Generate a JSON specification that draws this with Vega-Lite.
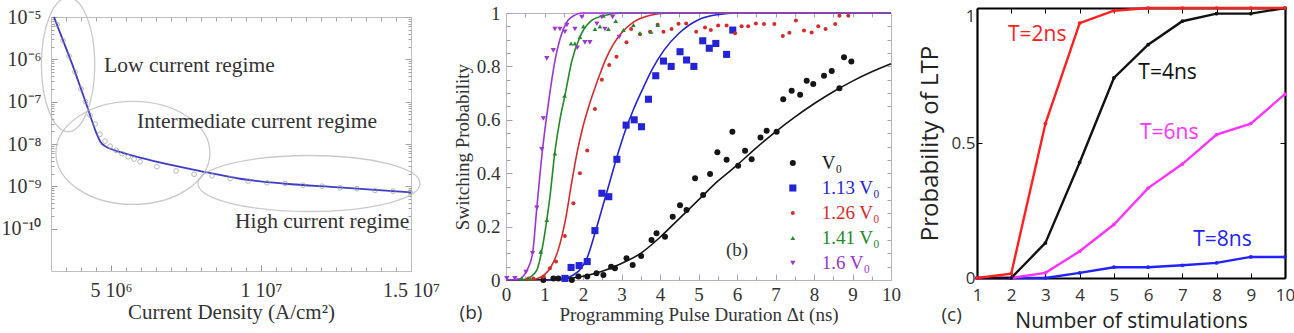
{
  "$schema": "https://vega.github.io/schema/vega-lite/v6.json",
  "width": 1294,
  "height": 333,
  "autosize": "none",
  "padding": 0,
  "background": "white",
  "config": {
    "view": {"stroke": null},
    "axis": {"grid": false, "labelFlush": false, "labelOverlap": false, "titleFontWeight": "normal", "labelBound": false}
  },
  "datasets": {
    "regimeCurve": [
      {"J": 3.1e6, "t": 1e-5}, {"J": 3.4e6, "t": 2.8e-6}, {"J": 3.7e6, "t": 7.9e-7}, {"J": 4.0e6, "t": 2.0e-7},
      {"J": 4.2e6, "t": 7.9e-8}, {"J": 4.35e6, "t": 3.8e-8}, {"J": 4.5e6, "t": 1.9e-8}, {"J": 4.65e6, "t": 1.12e-8},
      {"J": 4.8e6, "t": 8.9e-9}, {"J": 5.0e6, "t": 7.6e-9}, {"J": 5.4e6, "t": 6.2e-9}, {"J": 6.0e6, "t": 4.7e-9},
      {"J": 7.0e6, "t": 3.2e-9}, {"J": 8.2e6, "t": 2.14e-9}, {"J": 9.3e6, "t": 1.51e-9}, {"J": 1.08e7, "t": 1.15e-9},
      {"J": 1.26e7, "t": 9.5e-10}, {"J": 1.5e7, "t": 7.2e-10}
    ],
    "regimePoints": [
      {"J": 3.2e6, "t": 6.6e-6}, {"J": 3.4e6, "t": 2.8e-6}, {"J": 3.6e6, "t": 1.2e-6}, {"J": 3.8e6, "t": 5.0e-7},
      {"J": 4.0e6, "t": 2.0e-7}, {"J": 4.15e6, "t": 1.0e-7}, {"J": 4.3e6, "t": 4.8e-8}, {"J": 4.47e6, "t": 2.95e-8},
      {"J": 4.63e6, "t": 1.7e-8}, {"J": 4.8e6, "t": 1.17e-8}, {"J": 4.97e6, "t": 8.9e-9}, {"J": 5.17e6, "t": 7.1e-9},
      {"J": 5.37e6, "t": 5.9e-9}, {"J": 5.57e6, "t": 5.0e-9}, {"J": 5.77e6, "t": 4.4e-9}, {"J": 5.97e6, "t": 3.8e-9},
      {"J": 6.53e6, "t": 2.92e-9}, {"J": 7.17e6, "t": 2.32e-9}, {"J": 7.77e6, "t": 1.93e-9}, {"J": 8.37e6, "t": 1.76e-9},
      {"J": 8.97e6, "t": 1.53e-9}, {"J": 9.57e6, "t": 1.33e-9}, {"J": 1.02e7, "t": 1.21e-9}, {"J": 1.08e7, "t": 1.16e-9},
      {"J": 1.14e7, "t": 1.06e-9}, {"J": 1.203e7, "t": 1.01e-9}, {"J": 1.263e7, "t": 9.2e-10}, {"J": 1.32e7, "t": 8.8e-10},
      {"J": 1.38e7, "t": 8.0e-10}, {"J": 1.44e7, "t": 7.7e-10}, {"J": 1.497e7, "t": 7.3e-10}
    ],
    "switchFits": [
      {"voltage": "V0", "duration": 0, "probability": 0}, {"voltage": "V0", "duration": 1, "probability": 0.001},
      {"voltage": "V0", "duration": 1.5, "probability": 0.004}, {"voltage": "V0", "duration": 2, "probability": 0.014},
      {"voltage": "V0", "duration": 2.5, "probability": 0.033}, {"voltage": "V0", "duration": 3, "probability": 0.062},
      {"voltage": "V0", "duration": 3.5, "probability": 0.1}, {"voltage": "V0", "duration": 4, "probability": 0.16},
      {"voltage": "V0", "duration": 4.5, "probability": 0.23}, {"voltage": "V0", "duration": 5, "probability": 0.3},
      {"voltage": "V0", "duration": 5.5, "probability": 0.37}, {"voltage": "V0", "duration": 6, "probability": 0.43},
      {"voltage": "V0", "duration": 6.5, "probability": 0.495}, {"voltage": "V0", "duration": 7, "probability": 0.555},
      {"voltage": "V0", "duration": 7.5, "probability": 0.61}, {"voltage": "V0", "duration": 8, "probability": 0.66},
      {"voltage": "V0", "duration": 8.5, "probability": 0.705}, {"voltage": "V0", "duration": 9, "probability": 0.745},
      {"voltage": "V0", "duration": 9.5, "probability": 0.78}, {"voltage": "V0", "duration": 10, "probability": 0.81},
      {"voltage": "1.13 V0", "duration": 1, "probability": 0}, {"voltage": "1.13 V0", "duration": 1.4, "probability": 0.003},
      {"voltage": "1.13 V0", "duration": 1.7, "probability": 0.015}, {"voltage": "1.13 V0", "duration": 1.9, "probability": 0.035},
      {"voltage": "1.13 V0", "duration": 2.1, "probability": 0.08}, {"voltage": "1.13 V0", "duration": 2.3, "probability": 0.17},
      {"voltage": "1.13 V0", "duration": 2.5, "probability": 0.27}, {"voltage": "1.13 V0", "duration": 2.7, "probability": 0.37},
      {"voltage": "1.13 V0", "duration": 2.9, "probability": 0.47}, {"voltage": "1.13 V0", "duration": 3.1, "probability": 0.56},
      {"voltage": "1.13 V0", "duration": 3.3, "probability": 0.635}, {"voltage": "1.13 V0", "duration": 3.5, "probability": 0.7},
      {"voltage": "1.13 V0", "duration": 3.8, "probability": 0.79}, {"voltage": "1.13 V0", "duration": 4.1, "probability": 0.86},
      {"voltage": "1.13 V0", "duration": 4.5, "probability": 0.925}, {"voltage": "1.13 V0", "duration": 5, "probability": 0.975},
      {"voltage": "1.13 V0", "duration": 5.5, "probability": 0.994}, {"voltage": "1.13 V0", "duration": 6, "probability": 1},
      {"voltage": "1.13 V0", "duration": 10, "probability": 1},
      {"voltage": "1.26 V0", "duration": 0.5, "probability": 0}, {"voltage": "1.26 V0", "duration": 0.8, "probability": 0.005},
      {"voltage": "1.26 V0", "duration": 1.0, "probability": 0.02}, {"voltage": "1.26 V0", "duration": 1.15, "probability": 0.045},
      {"voltage": "1.26 V0", "duration": 1.35, "probability": 0.11}, {"voltage": "1.26 V0", "duration": 1.55, "probability": 0.23},
      {"voltage": "1.26 V0", "duration": 1.7, "probability": 0.36}, {"voltage": "1.26 V0", "duration": 1.85, "probability": 0.48},
      {"voltage": "1.26 V0", "duration": 2.0, "probability": 0.575}, {"voltage": "1.26 V0", "duration": 2.15, "probability": 0.65},
      {"voltage": "1.26 V0", "duration": 2.3, "probability": 0.715}, {"voltage": "1.26 V0", "duration": 2.45, "probability": 0.775},
      {"voltage": "1.26 V0", "duration": 2.6, "probability": 0.83}, {"voltage": "1.26 V0", "duration": 2.8, "probability": 0.885},
      {"voltage": "1.26 V0", "duration": 3.0, "probability": 0.925}, {"voltage": "1.26 V0", "duration": 3.3, "probability": 0.965},
      {"voltage": "1.26 V0", "duration": 3.7, "probability": 0.99}, {"voltage": "1.26 V0", "duration": 4.2, "probability": 1},
      {"voltage": "1.26 V0", "duration": 10, "probability": 1},
      {"voltage": "1.41 V0", "duration": 0.4, "probability": 0}, {"voltage": "1.41 V0", "duration": 0.62, "probability": 0.01},
      {"voltage": "1.41 V0", "duration": 0.8, "probability": 0.037}, {"voltage": "1.41 V0", "duration": 0.93, "probability": 0.11},
      {"voltage": "1.41 V0", "duration": 1.06, "probability": 0.225}, {"voltage": "1.41 V0", "duration": 1.14, "probability": 0.31},
      {"voltage": "1.41 V0", "duration": 1.27, "probability": 0.48}, {"voltage": "1.41 V0", "duration": 1.4, "probability": 0.6},
      {"voltage": "1.41 V0", "duration": 1.53, "probability": 0.69}, {"voltage": "1.41 V0", "duration": 1.71, "probability": 0.82},
      {"voltage": "1.41 V0", "duration": 1.92, "probability": 0.91}, {"voltage": "1.41 V0", "duration": 2.18, "probability": 0.967},
      {"voltage": "1.41 V0", "duration": 2.53, "probability": 0.99}, {"voltage": "1.41 V0", "duration": 3, "probability": 1},
      {"voltage": "1.41 V0", "duration": 10, "probability": 1},
      {"voltage": "1.6 V0", "duration": 0, "probability": 0}, {"voltage": "1.6 V0", "duration": 0.36, "probability": 0.005},
      {"voltage": "1.6 V0", "duration": 0.52, "probability": 0.03}, {"voltage": "1.6 V0", "duration": 0.69, "probability": 0.1},
      {"voltage": "1.6 V0", "duration": 0.8, "probability": 0.27}, {"voltage": "1.6 V0", "duration": 0.95, "probability": 0.49},
      {"voltage": "1.6 V0", "duration": 1.1, "probability": 0.66}, {"voltage": "1.6 V0", "duration": 1.27, "probability": 0.82},
      {"voltage": "1.6 V0", "duration": 1.45, "probability": 0.924}, {"voltage": "1.6 V0", "duration": 1.66, "probability": 0.98},
      {"voltage": "1.6 V0", "duration": 2, "probability": 1}, {"voltage": "1.6 V0", "duration": 10, "probability": 1}
    ],
    "switchData": [
      {"voltage": "V0", "duration": 0.97, "probability": 0}, {"voltage": "V0", "duration": 1.23, "probability": 0.006},
      {"voltage": "V0", "duration": 1.36, "probability": 0.006}, {"voltage": "V0", "duration": 1.71, "probability": 0},
      {"voltage": "V0", "duration": 1.88, "probability": 0.013}, {"voltage": "V0", "duration": 2.11, "probability": 0.013},
      {"voltage": "V0", "duration": 2.35, "probability": 0.025}, {"voltage": "V0", "duration": 2.53, "probability": 0.019},
      {"voltage": "V0", "duration": 2.73, "probability": 0.05}, {"voltage": "V0", "duration": 2.83, "probability": 0.044},
      {"voltage": "V0", "duration": 3.13, "probability": 0.081}, {"voltage": "V0", "duration": 3.29, "probability": 0.056},
      {"voltage": "V0", "duration": 3.51, "probability": 0.09}, {"voltage": "V0", "duration": 3.78, "probability": 0.15},
      {"voltage": "V0", "duration": 3.91, "probability": 0.175}, {"voltage": "V0", "duration": 4.13, "probability": 0.162},
      {"voltage": "V0", "duration": 4.33, "probability": 0.237}, {"voltage": "V0", "duration": 4.52, "probability": 0.28},
      {"voltage": "V0", "duration": 4.69, "probability": 0.262}, {"voltage": "V0", "duration": 4.91, "probability": 0.381},
      {"voltage": "V0", "duration": 5.12, "probability": 0.318}, {"voltage": "V0", "duration": 5.3, "probability": 0.397},
      {"voltage": "V0", "duration": 5.49, "probability": 0.478}, {"voltage": "V0", "duration": 5.73, "probability": 0.45},
      {"voltage": "V0", "duration": 5.88, "probability": 0.555}, {"voltage": "V0", "duration": 6.03, "probability": 0.428},
      {"voltage": "V0", "duration": 6.21, "probability": 0.484}, {"voltage": "V0", "duration": 6.38, "probability": 0.452},
      {"voltage": "V0", "duration": 6.61, "probability": 0.534}, {"voltage": "V0", "duration": 6.77, "probability": 0.559},
      {"voltage": "V0", "duration": 7.03, "probability": 0.555}, {"voltage": "V0", "duration": 7.2, "probability": 0.677},
      {"voltage": "V0", "duration": 7.42, "probability": 0.709}, {"voltage": "V0", "duration": 7.64, "probability": 0.694},
      {"voltage": "V0", "duration": 7.81, "probability": 0.746}, {"voltage": "V0", "duration": 7.98, "probability": 0.734},
      {"voltage": "V0", "duration": 8.26, "probability": 0.765}, {"voltage": "V0", "duration": 8.46, "probability": 0.783},
      {"voltage": "V0", "duration": 8.66, "probability": 0.718}, {"voltage": "V0", "duration": 8.78, "probability": 0.834},
      {"voltage": "V0", "duration": 8.97, "probability": 0.818},
      {"voltage": "1.13 V0", "duration": 1.53, "probability": 0.006}, {"voltage": "1.13 V0", "duration": 1.69, "probability": 0.047},
      {"voltage": "1.13 V0", "duration": 1.9, "probability": 0.054}, {"voltage": "1.13 V0", "duration": 2.11, "probability": 0.069},
      {"voltage": "1.13 V0", "duration": 2.31, "probability": 0.185}, {"voltage": "1.13 V0", "duration": 2.49, "probability": 0.325},
      {"voltage": "1.13 V0", "duration": 2.67, "probability": 0.312}, {"voltage": "1.13 V0", "duration": 2.88, "probability": 0.452},
      {"voltage": "1.13 V0", "duration": 3.12, "probability": 0.58}, {"voltage": "1.13 V0", "duration": 3.33, "probability": 0.6},
      {"voltage": "1.13 V0", "duration": 3.52, "probability": 0.574}, {"voltage": "1.13 V0", "duration": 3.7, "probability": 0.677},
      {"voltage": "1.13 V0", "duration": 3.89, "probability": 0.765}, {"voltage": "1.13 V0", "duration": 4.09, "probability": 0.82},
      {"voltage": "1.13 V0", "duration": 4.29, "probability": 0.8}, {"voltage": "1.13 V0", "duration": 4.52, "probability": 0.855},
      {"voltage": "1.13 V0", "duration": 4.69, "probability": 0.824}, {"voltage": "1.13 V0", "duration": 4.88, "probability": 0.8},
      {"voltage": "1.13 V0", "duration": 5.11, "probability": 0.896}, {"voltage": "1.13 V0", "duration": 5.28, "probability": 0.868},
      {"voltage": "1.13 V0", "duration": 5.45, "probability": 0.886}, {"voltage": "1.13 V0", "duration": 5.73, "probability": 0.845},
      {"voltage": "1.13 V0", "duration": 5.89, "probability": 0.936},
      {"voltage": "1.26 V0", "duration": 0.58, "probability": 0.006}, {"voltage": "1.26 V0", "duration": 0.71, "probability": 0.006},
      {"voltage": "1.26 V0", "duration": 0.97, "probability": 0.012}, {"voltage": "1.26 V0", "duration": 1.14, "probability": 0.044},
      {"voltage": "1.26 V0", "duration": 1.3, "probability": 0.069}, {"voltage": "1.26 V0", "duration": 1.53, "probability": 0.165},
      {"voltage": "1.26 V0", "duration": 1.75, "probability": 0.287}, {"voltage": "1.26 V0", "duration": 1.92, "probability": 0.4},
      {"voltage": "1.26 V0", "duration": 2.11, "probability": 0.485}, {"voltage": "1.26 V0", "duration": 2.31, "probability": 0.64},
      {"voltage": "1.26 V0", "duration": 2.49, "probability": 0.75}, {"voltage": "1.26 V0", "duration": 2.68, "probability": 0.805},
      {"voltage": "1.26 V0", "duration": 2.87, "probability": 0.836}, {"voltage": "1.26 V0", "duration": 3.13, "probability": 0.89},
      {"voltage": "1.26 V0", "duration": 3.25, "probability": 0.94}, {"voltage": "1.26 V0", "duration": 3.48, "probability": 0.92},
      {"voltage": "1.26 V0", "duration": 3.74, "probability": 0.93}, {"voltage": "1.26 V0", "duration": 3.94, "probability": 0.956},
      {"voltage": "1.26 V0", "duration": 4.09, "probability": 0.93}, {"voltage": "1.26 V0", "duration": 4.3, "probability": 0.94},
      {"voltage": "1.26 V0", "duration": 4.48, "probability": 0.96}, {"voltage": "1.26 V0", "duration": 4.68, "probability": 0.961},
      {"voltage": "1.26 V0", "duration": 4.94, "probability": 0.93}, {"voltage": "1.26 V0", "duration": 5.17, "probability": 0.946},
      {"voltage": "1.26 V0", "duration": 5.32, "probability": 0.936}, {"voltage": "1.26 V0", "duration": 5.51, "probability": 0.953},
      {"voltage": "1.26 V0", "duration": 5.73, "probability": 0.953}, {"voltage": "1.26 V0", "duration": 5.95, "probability": 0.924},
      {"voltage": "1.26 V0", "duration": 6.12, "probability": 0.95}, {"voltage": "1.26 V0", "duration": 6.29, "probability": 0.95},
      {"voltage": "1.26 V0", "duration": 6.49, "probability": 0.961}, {"voltage": "1.26 V0", "duration": 6.7, "probability": 0.959},
      {"voltage": "1.26 V0", "duration": 6.97, "probability": 0.959}, {"voltage": "1.26 V0", "duration": 7.19, "probability": 0.914},
      {"voltage": "1.26 V0", "duration": 7.36, "probability": 0.926}, {"voltage": "1.26 V0", "duration": 7.53, "probability": 0.972},
      {"voltage": "1.26 V0", "duration": 7.74, "probability": 0.934}, {"voltage": "1.26 V0", "duration": 7.94, "probability": 0.927},
      {"voltage": "1.26 V0", "duration": 8.11, "probability": 0.95}, {"voltage": "1.26 V0", "duration": 8.3, "probability": 0.94},
      {"voltage": "1.26 V0", "duration": 8.55, "probability": 0.959}, {"voltage": "1.26 V0", "duration": 8.66, "probability": 0.99},
      {"voltage": "1.26 V0", "duration": 8.89, "probability": 0.99},
      {"voltage": "1.41 V0", "duration": 0.41, "probability": 0.006}, {"voltage": "1.41 V0", "duration": 0.62, "probability": 0.006},
      {"voltage": "1.41 V0", "duration": 0.9, "probability": 0.106}, {"voltage": "1.41 V0", "duration": 1.06, "probability": 0.225},
      {"voltage": "1.41 V0", "duration": 1.27, "probability": 0.474}, {"voltage": "1.41 V0", "duration": 1.52, "probability": 0.69},
      {"voltage": "1.41 V0", "duration": 1.69, "probability": 0.886}, {"voltage": "1.41 V0", "duration": 1.79, "probability": 0.886},
      {"voltage": "1.41 V0", "duration": 1.92, "probability": 0.91}, {"voltage": "1.41 V0", "duration": 2.01, "probability": 0.95},
      {"voltage": "1.41 V0", "duration": 2.31, "probability": 0.94}, {"voltage": "1.41 V0", "duration": 2.44, "probability": 0.95},
      {"voltage": "1.41 V0", "duration": 2.53, "probability": 0.99}, {"voltage": "1.41 V0", "duration": 2.66, "probability": 0.94},
      {"voltage": "1.41 V0", "duration": 2.85, "probability": 0.97}, {"voltage": "1.41 V0", "duration": 3.05, "probability": 0.936},
      {"voltage": "1.41 V0", "duration": 3.31, "probability": 0.955}, {"voltage": "1.41 V0", "duration": 3.48, "probability": 0.925},
      {"voltage": "1.41 V0", "duration": 3.77, "probability": 0.93}, {"voltage": "1.41 V0", "duration": 3.94, "probability": 0.955},
      {"voltage": "1.6 V0", "duration": 0.02, "probability": 0.006}, {"voltage": "1.6 V0", "duration": 0.23, "probability": 0.006},
      {"voltage": "1.6 V0", "duration": 0.52, "probability": 0.03}, {"voltage": "1.6 V0", "duration": 0.69, "probability": 0.1},
      {"voltage": "1.6 V0", "duration": 0.8, "probability": 0.27}, {"voltage": "1.6 V0", "duration": 0.93, "probability": 0.49},
      {"voltage": "1.6 V0", "duration": 0.97, "probability": 0.605}, {"voltage": "1.6 V0", "duration": 1.06, "probability": 0.83},
      {"voltage": "1.6 V0", "duration": 1.23, "probability": 0.86}, {"voltage": "1.6 V0", "duration": 1.27, "probability": 0.94},
      {"voltage": "1.6 V0", "duration": 1.4, "probability": 0.94}, {"voltage": "1.6 V0", "duration": 1.53, "probability": 0.93},
      {"voltage": "1.6 V0", "duration": 1.58, "probability": 0.955}, {"voltage": "1.6 V0", "duration": 1.79, "probability": 0.94},
      {"voltage": "1.6 V0", "duration": 1.85, "probability": 0.87}, {"voltage": "1.6 V0", "duration": 1.97, "probability": 0.985},
      {"voltage": "1.6 V0", "duration": 2.05, "probability": 0.89}, {"voltage": "1.6 V0", "duration": 2.18, "probability": 0.89},
      {"voltage": "1.6 V0", "duration": 2.36, "probability": 0.96}, {"voltage": "1.6 V0", "duration": 2.49, "probability": 0.985},
      {"voltage": "1.6 V0", "duration": 2.57, "probability": 0.94}, {"voltage": "1.6 V0", "duration": 2.77, "probability": 0.985},
      {"voltage": "1.6 V0", "duration": 2.94, "probability": 0.91}
    ],
    "ltp": [
      {"pulse": "T=8ns", "stimulations": 1, "probability": 0}, {"pulse": "T=8ns", "stimulations": 2, "probability": 0},
      {"pulse": "T=8ns", "stimulations": 3, "probability": 0}, {"pulse": "T=8ns", "stimulations": 4, "probability": 0.019},
      {"pulse": "T=8ns", "stimulations": 5, "probability": 0.04}, {"pulse": "T=8ns", "stimulations": 6, "probability": 0.04},
      {"pulse": "T=8ns", "stimulations": 7, "probability": 0.047}, {"pulse": "T=8ns", "stimulations": 8, "probability": 0.056},
      {"pulse": "T=8ns", "stimulations": 9, "probability": 0.078}, {"pulse": "T=8ns", "stimulations": 10, "probability": 0.078},
      {"pulse": "T=6ns", "stimulations": 1, "probability": 0}, {"pulse": "T=6ns", "stimulations": 2, "probability": 0},
      {"pulse": "T=6ns", "stimulations": 3, "probability": 0.019}, {"pulse": "T=6ns", "stimulations": 4, "probability": 0.099},
      {"pulse": "T=6ns", "stimulations": 5, "probability": 0.198}, {"pulse": "T=6ns", "stimulations": 6, "probability": 0.333},
      {"pulse": "T=6ns", "stimulations": 7, "probability": 0.422}, {"pulse": "T=6ns", "stimulations": 8, "probability": 0.531},
      {"pulse": "T=6ns", "stimulations": 9, "probability": 0.572}, {"pulse": "T=6ns", "stimulations": 10, "probability": 0.681},
      {"pulse": "T=4ns", "stimulations": 1, "probability": 0}, {"pulse": "T=4ns", "stimulations": 2, "probability": 0},
      {"pulse": "T=4ns", "stimulations": 3, "probability": 0.13}, {"pulse": "T=4ns", "stimulations": 4, "probability": 0.428},
      {"pulse": "T=4ns", "stimulations": 5, "probability": 0.741}, {"pulse": "T=4ns", "stimulations": 6, "probability": 0.864},
      {"pulse": "T=4ns", "stimulations": 7, "probability": 0.951}, {"pulse": "T=4ns", "stimulations": 8, "probability": 0.979},
      {"pulse": "T=4ns", "stimulations": 9, "probability": 0.979}, {"pulse": "T=4ns", "stimulations": 10, "probability": 1},
      {"pulse": "T=2ns", "stimulations": 1, "probability": 0}, {"pulse": "T=2ns", "stimulations": 2, "probability": 0.016},
      {"pulse": "T=2ns", "stimulations": 3, "probability": 0.572}, {"pulse": "T=2ns", "stimulations": 4, "probability": 0.944},
      {"pulse": "T=2ns", "stimulations": 5, "probability": 0.99}, {"pulse": "T=2ns", "stimulations": 6, "probability": 1},
      {"pulse": "T=2ns", "stimulations": 7, "probability": 1}, {"pulse": "T=2ns", "stimulations": 8, "probability": 1},
      {"pulse": "T=2ns", "stimulations": 9, "probability": 1}, {"pulse": "T=2ns", "stimulations": 10, "probability": 1}
    ],
    "voltageKey": [
      {"voltage": "V0", "label": "V₀"}, {"voltage": "1.13 V0", "label": "1.13 V₀"}, {"voltage": "1.26 V0", "label": "1.26 V₀"},
      {"voltage": "1.41 V0", "label": "1.41 V₀"}, {"voltage": "1.6 V0", "label": "1.6 V₀"}
    ]
  },
  "layer": [
    {
      "layer": [
        {
          "data": {"name": "regimeCurve"},
          "mark": {"type": "line", "color": "#3c3cc6", "strokeWidth": 1.8, "interpolate": "monotone"},
          "encoding": {
            "x": {"field": "J", "type": "quantitative",
              "scale": {"domain": [3e6, 1.5e7], "range": [51, 411]},
              "axis": {"orient": "bottom", "offset": -62, "values": [5e6, 1e7, 1.5e7],
                "labelExpr": "datum.value < 7e6 ? '5 10⁶' : datum.value < 1.2e7 ? '1 10⁷' : '1.5 10⁷'",
                "title": "Current Density (A/cm²)", "tickSize": -6, "labelPadding": 15, "domainColor": "#bdbdbd", "tickColor": "#9a9a9a",
                "labelFont": "Liberation Serif", "labelFontSize": 20, "labelColor": "#333",
                "titleFont": "Liberation Serif", "titleFontSize": 21, "titleColor": "#333", "titlePadding": 1}},
            "y": {"field": "t", "type": "quantitative",
              "scale": {"type": "log", "domain": [8e-11, 1e-5], "range": [271, 17]},
              "axis": {"orient": "left", "offset": -51, "values": [1e-10, 1e-9, 1e-8, 1e-7, 1e-6, 1e-5],
                "labelExpr": "datum.value < 3e-10 ? '10⁻¹⁰' : datum.value < 3e-9 ? '10⁻⁹' : datum.value < 3e-8 ? '10⁻⁸' : datum.value < 3e-7 ? '10⁻⁷' : datum.value < 3e-6 ? '10⁻⁶' : '10⁻⁵'",
                "title": null, "tickSize": -6, "labelPadding": 16, "domainColor": "#bdbdbd", "tickColor": "#9a9a9a",
                "labelFont": "Liberation Serif", "labelFontSize": 20, "labelColor": "#333"}}
          }
        },
        {
          "data": {"name": "regimePoints"},
          "mark": {"type": "point", "shape": "circle", "size": 22, "filled": false, "color": "#9a9a9a", "strokeWidth": 1},
          "encoding": {
            "x": {"field": "J", "type": "quantitative",
              "axis": {"orient": "top", "offset": -17, "values": [3.5e6, 4e6, 4.5e6, 5e6, 5.5e6, 6e6, 6.5e6, 7e6, 7.5e6, 8e6, 8.5e6, 9e6, 9.5e6, 1e7, 1.05e7, 1.1e7, 1.15e7, 1.2e7, 1.25e7, 1.3e7, 1.35e7, 1.4e7, 1.45e7],
                "labels": false, "title": null, "tickSize": -4, "domainColor": "#bdbdbd", "tickColor": "#a5a5a5"}},
            "y": {"field": "t", "type": "quantitative",
              "axis": {"orient": "right", "offset": -883, "values": [1e-10, 1e-9, 1e-8, 1e-7, 1e-6, 1e-5],
                "labels": false, "title": null, "tickSize": -6, "domainColor": "#bdbdbd", "tickColor": "#a5a5a5"}}
          }
        },
        {
          "data": {"values": [{}]},
          "mark": {"type": "point", "shape": "M -26.7 0 A 26.7 67 0 1 1 26.7 0 A 26.7 67 0 1 1 -26.7 0 Z", "size": 4, "filled": false, "color": "#b5b5b5", "strokeWidth": 1.3},
          "encoding": {
            "x": {"datum": 3.57e6, "type": "quantitative",
              "axis": {"orient": "bottom", "offset": -62, "values": [3.5e6, 4e6, 4.5e6, 5.5e6, 6e6, 6.5e6, 7e6, 7.5e6, 8e6, 8.5e6, 9e6, 9.5e6, 1.05e7, 1.1e7, 1.15e7, 1.2e7, 1.25e7, 1.3e7, 1.35e7, 1.4e7, 1.45e7],
                "labels": false, "title": null, "domain": false, "tickSize": -4, "tickColor": "#a5a5a5"}},
            "y": {"datum": 7.5e-7, "type": "quantitative",
              "axis": {"orient": "left", "offset": -51, "values": [2e-10, 3e-10, 4e-10, 5e-10, 6e-10, 7e-10, 8e-10, 9e-10, 2e-9, 3e-9, 4e-9, 5e-9, 6e-9, 7e-9, 8e-9, 9e-9, 2e-8, 3e-8, 4e-8, 5e-8, 6e-8, 7e-8, 8e-8, 9e-8, 2e-7, 3e-7, 4e-7, 5e-7, 6e-7, 7e-7, 8e-7, 9e-7, 2e-6, 3e-6, 4e-6, 5e-6, 6e-6, 7e-6, 8e-6, 9e-6],
                "labels": false, "title": null, "domain": false, "tickSize": -3, "tickColor": "#a5a5a5"}}
          }
        },
        {
          "data": {"values": [{}]},
          "mark": {"type": "point", "shape": "M -77 0 A 77 51.5 0 1 1 77 0 A 77 51.5 0 1 1 -77 0 Z", "size": 4, "filled": false, "color": "#b5b5b5", "strokeWidth": 1.3},
          "encoding": {
            "x": {"datum": 5.73e6, "type": "quantitative", "axis": null},
            "y": {"datum": 6.15e-9, "type": "quantitative",
              "axis": {"orient": "right", "offset": -883, "values": [2e-10, 3e-10, 4e-10, 5e-10, 6e-10, 7e-10, 8e-10, 9e-10, 2e-9, 3e-9, 4e-9, 5e-9, 6e-9, 7e-9, 8e-9, 9e-9, 2e-8, 3e-8, 4e-8, 5e-8, 6e-8, 7e-8, 8e-8, 9e-8, 2e-7, 3e-7, 4e-7, 5e-7, 6e-7, 7e-7, 8e-7, 9e-7, 2e-6, 3e-6, 4e-6, 5e-6, 6e-6, 7e-6, 8e-6, 9e-6],
                "labels": false, "title": null, "domain": false, "tickSize": -3, "tickColor": "#a5a5a5"}}
          }
        },
        {
          "data": {"values": [{}]},
          "mark": {"type": "point", "shape": "M -111 0 A 111 28 0 1 1 111 0 A 111 28 0 1 1 -111 0 Z", "size": 4, "filled": false, "color": "#b5b5b5", "strokeWidth": 1.3},
          "encoding": {
            "x": {"datum": 1.16e7, "type": "quantitative", "axis": null},
            "y": {"datum": 1.167e-9, "type": "quantitative", "axis": null}
          }
        },
        {
          "data": {"values": [{}]},
          "mark": {"type": "text", "text": "Low current regime", "align": "left", "baseline": "middle", "font": "Liberation Serif", "fontSize": 21.5, "color": "#333"},
          "encoding": {
            "x": {"datum": 4.77e6, "type": "quantitative", "axis": null},
            "y": {"datum": 6.85e-7, "type": "quantitative", "axis": null}
          }
        },
        {
          "data": {"values": [{}]},
          "mark": {"type": "text", "text": "Intermediate current regime", "align": "left", "baseline": "middle", "font": "Liberation Serif", "fontSize": 21.5, "color": "#333"},
          "encoding": {
            "x": {"datum": 5.87e6, "type": "quantitative", "axis": null},
            "y": {"datum": 3.4e-8, "type": "quantitative", "axis": null}
          }
        },
        {
          "data": {"values": [{}]},
          "mark": {"type": "text", "text": "High current regime", "align": "left", "baseline": "middle", "font": "Liberation Serif", "fontSize": 21.5, "color": "#333"},
          "encoding": {
            "x": {"datum": 9.13e6, "type": "quantitative", "axis": null},
            "y": {"datum": 1.46e-10, "type": "quantitative", "axis": null}
          }
        }
      ],
      "resolve": {"axis": {"x": "independent", "y": "independent"}}
    },
    {
      "layer": [
        {
          "data": {"name": "switchFits"},
          "mark": {"type": "line", "strokeWidth": 1.6, "interpolate": "monotone"},
          "encoding": {
            "x": {"field": "duration", "type": "quantitative",
              "scale": {"domain": [0, 10], "range": [506, 891]},
              "axis": {"orient": "bottom", "offset": -53, "values": [0, 1, 2, 3, 4, 5, 6, 7, 8, 9, 10], "format": "d",
                "title": "Programming Pulse Duration Δt (ns)", "tickSize": -6, "labelPadding": 11, "domainColor": "#b9b1c9", "tickColor": "#a79fb8",
                "labelFont": "Liberation Serif", "labelFontSize": 19, "labelColor": "#333",
                "titleFont": "Liberation Serif", "titleFontSize": 19, "titleColor": "#333", "titlePadding": 1}},
            "y": {"field": "probability", "type": "quantitative",
              "scale": {"domain": [0, 1], "range": [280, 13]},
              "axis": {"orient": "left", "offset": -506, "values": [0, 0.2, 0.4, 0.6, 0.8, 1], "format": "~g",
                "title": "Switching Probability", "tickSize": -6, "labelPadding": 12, "domainColor": "#b9b1c9", "tickColor": "#a79fb8",
                "labelFont": "Liberation Serif", "labelFontSize": 19, "labelColor": "#333",
                "titleFont": "Liberation Serif", "titleFontSize": 19, "titleColor": "#333", "titlePadding": 4}},
            "color": {"field": "voltage", "type": "nominal", "legend": null,
              "scale": {"domain": ["V0", "1.13 V0", "1.26 V0", "1.41 V0", "1.6 V0"], "range": ["#151515", "#2424d6", "#d62b2b", "#238a2a", "#9b36d2"]}}
          }
        },
        {
          "data": {"name": "switchData"},
          "mark": {"type": "point", "filled": true, "opacity": 1},
          "encoding": {
            "x": {"field": "duration", "type": "quantitative",
              "axis": {"orient": "top", "offset": -13, "values": [0.5, 1, 1.5, 2, 2.5, 3, 3.5, 4, 4.5, 5, 5.5, 6, 6.5, 7, 7.5, 8, 8.5, 9, 9.5],
                "labels": false, "title": null, "tickSize": -4, "domainColor": "#b9b1c9", "tickColor": "#a79fb8"}},
            "y": {"field": "probability", "type": "quantitative",
              "axis": {"orient": "right", "offset": -403, "values": [0.05, 0.1, 0.15, 0.2, 0.25, 0.3, 0.35, 0.4, 0.45, 0.5, 0.55, 0.6, 0.65, 0.7, 0.75, 0.8, 0.85, 0.9, 0.95],
                "labels": false, "title": null, "tickSize": -4, "domainColor": "#b9b1c9", "tickColor": "#a79fb8"}},
            "color": {"field": "voltage", "type": "nominal", "legend": null},
            "shape": {"field": "voltage", "type": "nominal", "legend": null,
              "scale": {"domain": ["V0", "1.13 V0", "1.26 V0", "1.41 V0", "1.6 V0"], "range": ["circle", "square", "circle", "triangle-up", "triangle-down"]}},
            "size": {"field": "voltage", "type": "nominal", "legend": null,
              "scale": {"type": "ordinal", "domain": ["V0", "1.13 V0", "1.26 V0", "1.41 V0", "1.6 V0"], "range": [36, 50, 16, 22, 28]}}
          }
        },
        {
          "data": {"values": [{}]},
          "mark": {"type": "text", "text": "(b)", "align": "center", "baseline": "middle", "font": "Liberation Serif", "fontSize": 19, "color": "#333"},
          "encoding": {
            "x": {"datum": 6.0, "type": "quantitative",
              "axis": {"orient": "bottom", "offset": -53, "values": [0.5, 1.5, 2.5, 3.5, 4.5, 5.5, 6.5, 7.5, 8.5, 9.5],
                "labels": false, "title": null, "domain": false, "tickSize": -4, "tickColor": "#a79fb8"}},
            "y": {"datum": 0.112, "type": "quantitative",
              "axis": {"orient": "left", "offset": -506, "values": [0.05, 0.1, 0.15, 0.25, 0.3, 0.35, 0.45, 0.5, 0.55, 0.65, 0.7, 0.75, 0.85, 0.9, 0.95],
                "labels": false, "title": null, "domain": false, "tickSize": -4, "tickColor": "#a79fb8"}}
          }
        },
        {
          "data": {"values": [{}]},
          "mark": {"type": "text", "text": "(b)", "align": "center", "baseline": "middle", "font": "Open Sans", "fontSize": 19, "color": "#333"},
          "encoding": {
            "x": {"datum": -0.91, "type": "quantitative", "axis": null},
            "y": {"datum": -0.124, "type": "quantitative", "axis": null}
          }
        }
      ],
      "resolve": {"axis": {"x": "independent", "y": "independent"}}
    },
    {
      "layer": [
        {
          "data": {"name": "ltp"},
          "mark": {"type": "line", "strokeWidth": 2.4},
          "encoding": {
            "x": {"field": "stimulations", "type": "quantitative",
              "scale": {"domain": [1, 10], "range": [977, 1285]},
              "axis": {"orient": "bottom", "offset": -55, "values": [1, 2, 3, 4, 5, 6, 7, 8, 9, 10], "format": "d",
                "title": "Number of stimulations", "tickSize": -5, "labelPadding": 14, "domainColor": "#000", "domainWidth": 2.2, "tickColor": "#000",
                "labelFont": "Open Sans", "labelFontSize": 17, "labelColor": "#333",
                "titleFont": "Open Sans", "titleFontSize": 21, "titleColor": "#222", "titlePadding": 7}},
            "y": {"field": "probability", "type": "quantitative",
              "scale": {"domain": [0, 1], "range": [278, 8]},
              "axis": {"orient": "left", "offset": -977, "values": [0, 0.5, 1], "format": "~g",
                "labelBaseline": {"condition": {"test": "datum.value == 1", "value": "top"}, "value": "middle"},
                "title": "Probability of LTP", "tickSize": -5, "labelPadding": 7, "domainColor": "#000", "domainWidth": 2.2, "tickColor": "#000",
                "labelFont": "Open Sans", "labelFontSize": 17, "labelColor": "#333",
                "titleFont": "Open Sans", "titleFontSize": 24, "titleColor": "#222", "titlePadding": 9}},
            "color": {"field": "pulse", "type": "nominal", "legend": null,
              "scale": {"domain": ["T=2ns", "T=4ns", "T=6ns", "T=8ns"], "range": ["#ff2020", "#111111", "#ff33ff", "#2222ff"]}}
          }
        },
        {
          "data": {"name": "ltp"},
          "mark": {"type": "point", "filled": true, "size": 14, "opacity": 1},
          "encoding": {
            "x": {"field": "stimulations", "type": "quantitative",
              "axis": {"orient": "top", "offset": -8, "values": [2, 3, 4, 5, 6, 7, 8, 9],
                "labels": false, "title": null, "tickSize": -5, "domainColor": "#000", "domainWidth": 2.2, "tickColor": "#000"}},
            "y": {"field": "probability", "type": "quantitative",
              "axis": {"orient": "right", "offset": -9, "values": [0, 0.5, 1],
                "labels": false, "title": null, "tickSize": -5, "domainColor": "#000", "domainWidth": 2.2, "tickColor": "#000"}},
            "color": {"field": "pulse", "type": "nominal", "legend": null}
          }
        },
        {
          "data": {"values": [{}]},
          "mark": {"type": "text", "text": "T=2ns", "align": "left", "baseline": "middle", "font": "Open Sans", "fontSize": 21, "color": "#ff2020"},
          "encoding": {"x": {"datum": 1.906, "type": "quantitative", "axis": null}, "y": {"datum": 0.9, "type": "quantitative", "axis": null}}
        },
        {
          "data": {"values": [{}]},
          "mark": {"type": "text", "text": "T=4ns", "align": "left", "baseline": "middle", "font": "Open Sans", "fontSize": 21, "color": "#111111"},
          "encoding": {"x": {"datum": 5.714, "type": "quantitative", "axis": null}, "y": {"datum": 0.758, "type": "quantitative", "axis": null}}
        },
        {
          "data": {"values": [{}]},
          "mark": {"type": "text", "text": "T=6ns", "align": "left", "baseline": "middle", "font": "Open Sans", "fontSize": 21, "color": "#ff33ff"},
          "encoding": {"x": {"datum": 5.763, "type": "quantitative", "axis": null}, "y": {"datum": 0.536, "type": "quantitative", "axis": null}}
        },
        {
          "data": {"values": [{}]},
          "mark": {"type": "text", "text": "T=8ns", "align": "left", "baseline": "middle", "font": "Open Sans", "fontSize": 21, "color": "#2222ff"},
          "encoding": {"x": {"datum": 7.32, "type": "quantitative", "axis": null}, "y": {"datum": 0.141, "type": "quantitative", "axis": null}}
        },
        {
          "data": {"values": [{}]},
          "mark": {"type": "text", "text": "(c)", "align": "center", "baseline": "middle", "font": "Open Sans", "fontSize": 19, "color": "#333"},
          "encoding": {"x": {"datum": 0.26, "type": "quantitative", "axis": null}, "y": {"datum": -0.137, "type": "quantitative", "axis": null}}
        }
      ],
      "resolve": {"axis": {"x": "independent", "y": "independent"}}
    },
    {
      "data": {"name": "voltageKey"},
      "layer": [
        {
          "mark": {"type": "point", "filled": true, "opacity": 1},
          "encoding": {
            "x": {"datum": 7.45, "type": "quantitative", "scale": {"domain": [0, 10], "range": [506, 891]}, "axis": null},
            "y": {"field": "voltage", "type": "nominal", "axis": null,
              "scale": {"type": "point", "domain": ["V0", "1.13 V0", "1.26 V0", "1.41 V0", "1.6 V0"], "range": [163, 263], "padding": 0}},
            "color": {"field": "voltage", "type": "nominal", "legend": null,
              "scale": {"domain": ["V0", "1.13 V0", "1.26 V0", "1.41 V0", "1.6 V0"], "range": ["#151515", "#2424d6", "#d62b2b", "#238a2a", "#9b36d2"]}},
            "shape": {"field": "voltage", "type": "nominal", "legend": null,
              "scale": {"domain": ["V0", "1.13 V0", "1.26 V0", "1.41 V0", "1.6 V0"], "range": ["circle", "square", "circle", "triangle-up", "triangle-down"]}},
            "size": {"field": "voltage", "type": "nominal", "legend": null,
              "scale": {"type": "ordinal", "domain": ["V0", "1.13 V0", "1.26 V0", "1.41 V0", "1.6 V0"], "range": [36, 50, 16, 22, 28]}}
          }
        },
        {
          "mark": {"type": "text", "align": "left", "baseline": "middle", "font": "Liberation Serif", "fontSize": 19},
          "encoding": {
            "x": {"datum": 8.2, "type": "quantitative", "axis": null},
            "y": {"field": "voltage", "type": "nominal", "axis": null},
            "text": {"field": "label"},
            "color": {"field": "voltage", "type": "nominal", "legend": null}
          }
        }
      ]
    }
  ],
  "resolve": {
    "scale": {"x": "independent", "y": "independent", "color": "independent", "shape": "independent", "size": "independent"},
    "axis": {"x": "independent", "y": "independent"}
  }
}
